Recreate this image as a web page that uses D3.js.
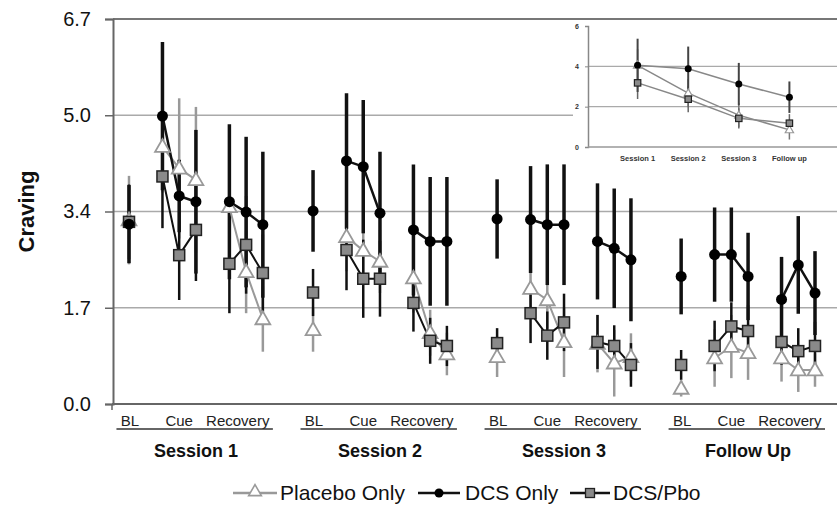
<!DOCTYPE html>
<html>
<head>
<meta charset="utf-8">
<script src="https://cdn.jsdelivr.net/npm/d3@7"></script>
<style>
  body { margin: 0; background: #fff; }
  svg { font-family: "Liberation Sans", Arial, sans-serif; }
</style>
</head>
<body>
<div id="chart"></div>
<script>
// DATA
var sessions = ["Session 1", "Session 2", "Session 3", "Follow Up"];
var phases = ["BL", "Cue", "Recovery"];
// per session: BL, Cue x3, Recovery x3
var placeboMean = [
  [3.20, 4.48, 4.10, 3.90, 3.43, 2.30, 1.48],
  [1.29, 2.91, 2.67, 2.48, 2.19, 1.24, 0.87],
  [0.82, 2.01, 1.81, 1.08, 1.05, 0.71, 0.82],
  [0.27, 0.80, 1.00, 0.89, 0.80, 0.59, 0.59]
];
var placeboSE = [
  [0.77, 0.80, 1.22, 1.27, 1.00, 0.72, 0.57],
  [0.38, 0.60, 0.60, 0.55, 0.60, 0.40, 0.37],
  [0.35, 0.45, 0.50, 0.61, 0.50, 0.58, 0.41],
  [0.14, 0.50, 0.55, 0.47, 0.41, 0.38, 0.29]
];
var dcsMean = [
  [3.13, 5.01, 3.62, 3.52, 3.52, 3.34, 3.12],
  [3.36, 4.23, 4.13, 3.32, 3.03, 2.83, 2.83],
  [3.22, 3.21, 3.12, 3.12, 2.83, 2.71, 2.51],
  [2.22, 2.60, 2.60, 2.22, 1.82, 2.42, 1.93]
];
var dcsSE = [
  [0.68, 1.29, 0.63, 1.25, 1.35, 1.31, 1.27],
  [0.71, 1.18, 1.16, 1.07, 1.14, 1.12, 1.12],
  [0.69, 0.93, 1.05, 1.05, 1.01, 1.04, 1.07],
  [0.66, 0.82, 0.82, 0.76, 0.74, 0.85, 0.73]
];
var pboMean = [
  [3.17, 3.96, 2.59, 3.03, 2.44, 2.77, 2.28],
  [1.94, 2.68, 2.18, 2.18, 1.76, 1.10, 1.01],
  [1.06, 1.58, 1.19, 1.42, 1.08, 1.01, 0.68],
  [0.68, 1.01, 1.35, 1.27, 1.08, 0.92, 1.01]
];
var pboSE = [
  [0.65, 0.90, 0.78, 0.89, 0.86, 0.85, 0.67],
  [0.41, 0.70, 0.68, 0.66, 0.50, 0.40, 0.35],
  [0.26, 0.52, 0.42, 0.50, 0.47, 0.36, 0.38],
  [0.26, 0.44, 0.42, 0.45, 0.40, 0.40, 0.42]
];
var yTickLabels = ["0.0", "1.7", "3.4", "5.0", "6.7"];

// inset
var insetCats = ["Session 1", "Session 2", "Session 3", "Follow up"];
var insetDcs = [4.05, 3.88, 3.12, 2.47];
var insetDcsSE = [1.32, 1.10, 1.05, 0.78];
var insetPlacebo = [4.05, 2.67, 1.58, 0.85];
var insetPlaceboSE = [0.80, 0.70, 0.60, 0.48];
var insetPbo = [3.18, 2.37, 1.42, 1.18];
var insetPboSE = [0.80, 0.65, 0.50, 0.45];
var insetTicks = [0, 2, 4, 6];

var legendNames = ["Placebo Only", "DCS Only", "DCS/Pbo"];

// SETUP
var width = 837, height = 520;
var svg = d3.select("#chart").append("svg")
  .attr("width", width).attr("height", height);

var slotOf = [0, 2, 3, 4, 6, 7, 8];
function slot(s, i) { return s * 11 + slotOf[i]; }

var x = d3.scaleLinear().domain([0, 41]).range([129, 815]);
var y = d3.scaleLinear().domain([0, 6.7]).range([404, 19]);
var left = 113, right = 837;

var tickVals = d3.range(5).map(function (i) { return i * 6.7 / 4; });

// grid
svg.append("g").selectAll("line")
  .data(tickVals.slice(1, 4))
  .enter().append("line")
  .attr("x1", left).attr("x2", right)
  .attr("y1", function (d) { return y(d); })
  .attr("y2", function (d) { return y(d); })
  .attr("stroke", "#aaa").attr("stroke-width", 1.5);

svg.append("line")
  .attr("x1", left).attr("x2", right)
  .attr("y1", y(6.7)).attr("y2", y(6.7))
  .attr("stroke", "#777").attr("stroke-width", 2);

// y axis
var yAxis = svg.append("g")
  .attr("transform", "translate(" + left + ",0)")
  .call(d3.axisLeft(y).tickValues(tickVals).tickSize(8).tickPadding(14)
    .tickFormat(function (d, i) { return yTickLabels[i]; }));
yAxis.select(".domain").attr("stroke", "#666").attr("stroke-width", 2);
yAxis.selectAll(".tick line").attr("stroke", "#666").attr("stroke-width", 1.5);
yAxis.selectAll(".tick text")
  .attr("font-size", 20).attr("fill", "#111")
  .style("font-family", "'Liberation Sans', Arial, sans-serif");

// bottom axis
svg.append("line")
  .attr("x1", left - 1).attr("x2", right)
  .attr("y1", y(0)).attr("y2", y(0))
  .attr("stroke", "#666").attr("stroke-width", 2);
svg.append("line")
  .attr("x1", left - 1).attr("x2", left - 1)
  .attr("y1", y(0)).attr("y2", y(0) + 6)
  .attr("stroke", "#666").attr("stroke-width", 1.5);

svg.append("text")
  .attr("transform", "translate(34," + y(3.35) + ") rotate(-90)")
  .attr("text-anchor", "middle")
  .attr("font-size", 22).attr("font-weight", "bold").attr("fill", "#111")
  .text("Craving");

// x labels
sessions.forEach(function (name, s) {
  var g = svg.append("g");
  g.append("text").attr("x", x(slot(s, 0)) + 1).attr("y", 426)
    .attr("text-anchor", "middle").attr("font-size", 15).attr("fill", "#222")
    .text(phases[0]);
  g.append("text").attr("x", x(slot(s, 2))).attr("y", 426)
    .attr("text-anchor", "middle").attr("font-size", 15).attr("fill", "#222")
    .text(phases[1]);
  g.append("text").attr("x", x(s * 11 + 6.5)).attr("y", 426)
    .attr("text-anchor", "middle").attr("font-size", 15).attr("fill", "#222")
    .text(phases[2]);
  g.append("line")
    .attr("x1", x(s * 11 - 0.75)).attr("x2", x(s * 11 + 8.6))
    .attr("y1", 429).attr("y2", 429)
    .attr("stroke", "#333").attr("stroke-width", 1.5);
  g.append("text").attr("x", x(s * 11 + 4)).attr("y", 457)
    .attr("text-anchor", "middle").attr("font-size", 18)
    .attr("font-weight", "bold").attr("fill", "#111")
    .text(name);
});

// build point records
function points(mean, se) {
  var out = [];
  mean.forEach(function (row, s) {
    row.forEach(function (v, i) {
      out.push({ s: s, i: i, v: v, se: se[s][i], slot: slot(s, i) });
    });
  });
  return out;
}
var placeboPts = points(placeboMean, placeboSE);
var dcsPts = points(dcsMean, dcsSE);
var pboPts = points(pboMean, pboSE);

function segments(pts) {
  // Cue and Recovery triplets are joined, BL stands alone
  var segs = [];
  d3.range(4).forEach(function (s) {
    var row = pts.filter(function (p) { return p.s === s; });
    segs.push(row.slice(1, 4));
    segs.push(row.slice(4, 7));
  });
  return segs;
}

function errorBars(pts, color, w) {
  svg.append("g").selectAll("line")
    .data(pts).enter().append("line")
    .attr("x1", function (d) { return x(d.slot); })
    .attr("x2", function (d) { return x(d.slot); })
    .attr("y1", function (d) { return y(d.v + d.se); })
    .attr("y2", function (d) { return y(Math.max(0, d.v - d.se)); })
    .attr("stroke", color).attr("stroke-width", w);
}

var line = d3.line()
  .x(function (d) { return x(d.slot); })
  .y(function (d) { return y(d.v); });

function lines(pts, color, w) {
  svg.append("g").selectAll("path")
    .data(segments(pts)).enter().append("path")
    .attr("d", line)
    .attr("fill", "none").attr("stroke", color).attr("stroke-width", w);
}

errorBars(placeboPts, "#999", 2.5);
errorBars(pboPts, "#111", 2.5);
errorBars(dcsPts, "#111", 3.5);

lines(placeboPts, "#999", 2);
lines(pboPts, "#111", 2);
lines(dcsPts, "#111", 2.5);

var tri = d3.symbol().type(d3.symbolTriangle).size(95);

function triangles(g, pts, sx, sy, sym, sw) {
  g.append("g").selectAll("path")
    .data(pts).enter().append("path")
    .attr("d", sym)
    .attr("transform", function (d) { return "translate(" + sx(d) + "," + (sy(d) + 1) + ")"; })
    .attr("fill", "#fff").attr("stroke", "#999").attr("stroke-width", sw);
}
function squares(g, pts, sx, sy, half, sw) {
  g.append("g").selectAll("rect")
    .data(pts).enter().append("rect")
    .attr("x", function (d) { return sx(d) - half; })
    .attr("y", function (d) { return sy(d) - half; })
    .attr("width", half * 2).attr("height", half * 2)
    .attr("fill", "#8a8a8a").attr("stroke", "#222").attr("stroke-width", sw);
}
function circles(g, pts, sx, sy, r) {
  g.append("g").selectAll("circle")
    .data(pts).enter().append("circle")
    .attr("cx", sx).attr("cy", sy).attr("r", r)
    .attr("fill", "#000");
}
var px = function (d) { return x(d.slot); };
var py = function (d) { return y(d.v); };

triangles(svg, placeboPts, px, py, tri, 1.8);
squares(svg, pboPts, px, py, 5.5, 1.5);
circles(svg, dcsPts, px, py, 5.5);

// INSET
var inset = svg.append("g");
inset.append("rect")
  .attr("x", 573).attr("y", 21).attr("width", 264).attr("height", 144)
  .attr("fill", "#fff");

var ix = d3.scalePoint().domain(insetCats).range([587, 840]).padding(1);
var iy = d3.scaleLinear().domain([0, 6]).range([147, 26]);

inset.append("g").selectAll("line")
  .data([2, 4]).enter().append("line")
  .attr("x1", 588).attr("x2", 837)
  .attr("y1", function (d) { return iy(d); })
  .attr("y2", function (d) { return iy(d); })
  .attr("stroke", "#aaa").attr("stroke-width", 1.2);

var iyAxis = inset.append("g")
  .attr("transform", "translate(588,0)")
  .call(d3.axisLeft(iy).tickValues(insetTicks).tickSize(3).tickPadding(6)
    .tickFormat(d3.format("d")));
iyAxis.select(".domain").attr("stroke", "#888").attr("stroke-width", 1.5);
iyAxis.selectAll(".tick line").attr("stroke", "#888");
iyAxis.selectAll(".tick text").attr("font-size", 7).attr("font-weight", "bold")
  .attr("fill", "#333")
  .style("font-family", "'Liberation Sans', Arial, sans-serif");

inset.append("line")
  .attr("x1", 588).attr("x2", 837)
  .attr("y1", iy(0)).attr("y2", iy(0))
  .attr("stroke", "#999").attr("stroke-width", 1.5);

inset.append("g").selectAll("text")
  .data(insetCats).enter().append("text")
  .attr("x", function (d) { return ix(d); })
  .attr("y", 161)
  .attr("text-anchor", "middle").attr("font-size", 7.5)
  .attr("font-weight", "bold").attr("fill", "#333")
  .text(function (d) { return d; });

function insetPts(mean, se) {
  return mean.map(function (v, i) { return { c: insetCats[i], v: v, se: se[i] }; });
}
var iPl = insetPts(insetPlacebo, insetPlaceboSE);
var iDc = insetPts(insetDcs, insetDcsSE);
var iPb = insetPts(insetPbo, insetPboSE);

var ipx = function (d) { return ix(d.c); };
var ipy = function (d) { return iy(d.v); };

function insetBars(pts, color, w) {
  inset.append("g").selectAll("line")
    .data(pts).enter().append("line")
    .attr("x1", ipx).attr("x2", ipx)
    .attr("y1", function (d) { return iy(d.v + d.se); })
    .attr("y2", function (d) { return iy(d.v - d.se); })
    .attr("stroke", color).attr("stroke-width", w);
}
insetBars(iPl, "#777", 1.5);
insetBars(iPb, "#666", 1.5);
insetBars(iDc, "#444", 2);

var iline = d3.line().x(ipx).y(ipy);
[iPl, iPb, iDc].forEach(function (pts) {
  inset.append("path").attr("d", iline(pts))
    .attr("fill", "none").attr("stroke", "#888").attr("stroke-width", 1.5);
});

triangles(inset, iPl, ipx, function (d) { return ipy(d) - 0.5; },
  d3.symbol().type(d3.symbolTriangle).size(30), 1.2);
squares(inset, iPb, ipx, ipy, 3.2, 1.2);
circles(inset, iDc, ipx, ipy, 3.5);

// LEGEND
var legend = svg.append("g");
var lg = [
  { x0: 233, x1: 277, tx: 280 },
  { x0: 418, x1: 460, tx: 465 },
  { x0: 570, x1: 610, tx: 613 }
];
var ly = 493;
legend.append("line").attr("x1", lg[0].x0).attr("x2", lg[0].x1)
  .attr("y1", ly).attr("y2", ly).attr("stroke", "#999").attr("stroke-width", 2.5);
legend.append("line").attr("x1", lg[1].x0).attr("x2", lg[1].x1)
  .attr("y1", ly).attr("y2", ly).attr("stroke", "#111").attr("stroke-width", 2.5);
legend.append("line").attr("x1", lg[2].x0).attr("x2", lg[2].x1)
  .attr("y1", ly).attr("y2", ly).attr("stroke", "#111").attr("stroke-width", 2.5);
legend.append("path")
  .attr("d", d3.symbol().type(d3.symbolTriangle).size(70)())
  .attr("transform", "translate(" + (lg[0].x0 + lg[0].x1) / 2 + "," + (ly - 1) + ")")
  .attr("fill", "#fff").attr("stroke", "#999").attr("stroke-width", 1.6);
legend.append("circle").attr("cx", (lg[1].x0 + lg[1].x1) / 2).attr("cy", ly)
  .attr("r", 4.5).attr("fill", "#000");
legend.append("rect").attr("x", (lg[2].x0 + lg[2].x1) / 2 - 4.5).attr("y", ly - 4.5)
  .attr("width", 9).attr("height", 9)
  .attr("fill", "#8a8a8a").attr("stroke", "#222").attr("stroke-width", 1.3);
legend.selectAll("text.lab")
  .data(legendNames).enter().append("text")
  .attr("class", "lab")
  .attr("x", function (d, i) { return lg[i].tx; })
  .attr("y", ly + 7)
  .attr("font-size", 21).attr("fill", "#111")
  .text(function (d) { return d; });
</script>
</body>
</html>
